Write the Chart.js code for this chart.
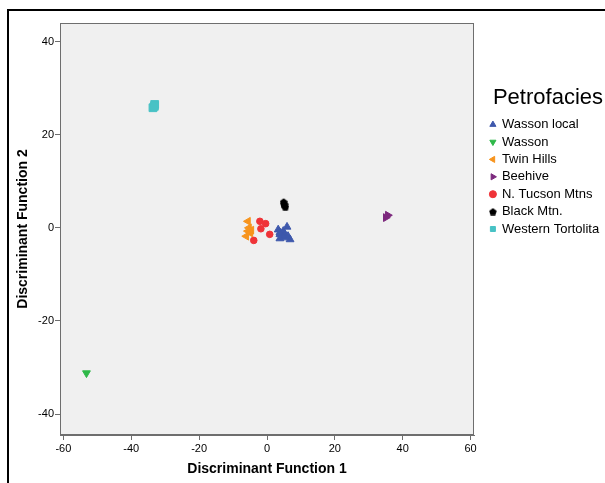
<!DOCTYPE html>
<html>
<head>
<meta charset="utf-8">
<script src="https://cdn.jsdelivr.net/npm/chart.js@4"></script>
<style>
  html, body { margin: 0; padding: 0; background: #fff; width: 605px; height: 483px; overflow: hidden; }
  #frame { position: absolute; left: 7px; top: 9px; width: 700px; height: 700px; border-left: 2px solid #000; border-top: 2px solid #000; }
  #wrap { position: absolute; left: 0; top: 0; width: 605px; height: 483px; }
</style>
</head>
<body>
<div id="frame"></div>
<div id="wrap"><canvas id="c" width="605" height="483"></canvas></div>
<script>
// ---- data ----
const seriesNames = ['Wasson local', 'Wasson', 'Twin Hills', 'Beehive', 'N. Tucson Mtns', 'Black Mtn.', 'Western Tortolita'];
const wassonLocalX = [5.9, 3.3, 3.8, 4.8, 3.8, 5.2, 6.2, 4.8, 6.8, 3.8];
const wassonLocalY = [0.2, -0.4, -1.0, -0.7, -1.4, -1.4, -1.8, -2.1, -2.5, -2.3];
const wassonX = [-53.2];
const wassonY = [-31.2];
const twinHillsX = [-5.6, -5.3, -4.6, -5.6, -6.1, -4.9];
const twinHillsY = [1.4, 0.0, -0.5, -0.7, -1.8, -1.1];
const beehiveX = [35.0, 35.6];
const beehiveY = [2.2, 2.7];
const nTucsonX = [-2.1, -0.4, -1.8, 0.8, -3.9];
const nTucsonY = [1.4, 0.9, -0.2, -1.4, -2.7];
const blackMtnX = [4.9, 5.2, 5.4, 5.0];
const blackMtnY = [5.6, 5.0, 4.5, 5.2];
const westTortX = [-33.1, -33.6, -33.2];
const westTortY = [26.5, 25.8, 26.1];
const xTicks = [-60, -40, -20, 0, 20, 40, 60];
const yTicks = [-40, -20, 0, 20, 40];

const FONT = "'Liberation Sans', Arial, sans-serif";

function pts(xs, ys) { return xs.map((x, i) => ({ x: x, y: ys[i] })); }

function pentagon(size, color) {
  const cv = document.createElement('canvas');
  cv.width = size; cv.height = size;
  const g = cv.getContext('2d');
  const r = size / 2;
  g.fillStyle = color;
  g.beginPath();
  for (let i = 0; i < 5; i++) {
    const a = -Math.PI / 2 + i * 2 * Math.PI / 5;
    const px = r + r * Math.cos(a), py = r + 0.5 + r * Math.sin(a);
    if (i === 0) g.moveTo(px, py); else g.lineTo(px, py);
  }
  g.closePath();
  g.fill();
  return cv;
}

const colors = ['#3E58AC', '#2EB848', '#F7941D', '#7C287D', '#EF3338', '#000000', '#48C2C5'];

function ds(label, data, color, style, rot, radius) {
  return {
    label: label,
    data: data,
    backgroundColor: color,
    borderColor: color,
    pointBackgroundColor: color,
    pointBorderColor: color,
    pointBorderWidth: 1,
    pointStyle: style,
    pointRotation: rot,
    pointRadius: radius,
    pointHoverRadius: radius
  };
}

const plotBox = {
  id: 'plotBox',
  beforeDatasetsDraw(chart) {
    const a = chart.chartArea, ctx = chart.ctx;
    ctx.save();
    ctx.fillStyle = '#F0F0F0';
    ctx.fillRect(a.left, a.top, a.right - a.left, a.bottom - a.top);
    ctx.restore();
  },
  afterDatasetsDraw(chart) {
    const a = chart.chartArea, ctx = chart.ctx;
    ctx.save();
    ctx.strokeStyle = '#6E6E6E';
    ctx.lineWidth = 1;
    ctx.strokeRect(Math.round(a.left) + 0.5, Math.round(a.top) + 0.5, Math.round(a.right - a.left) - 1, Math.round(a.bottom - a.top) - 1);
    ctx.restore();
  }
};

new Chart(document.getElementById('c'), {
  type: 'scatter',
  data: {
    datasets: [
      ds(seriesNames[0], pts(wassonLocalX, wassonLocalY), colors[0], 'triangle', 0, 4.5),
      ds(seriesNames[1], pts(wassonX, wassonY), colors[1], 'triangle', 180, 4.5),
      ds(seriesNames[2], pts(twinHillsX, twinHillsY), colors[2], 'triangle', 270, 4.5),
      ds(seriesNames[3], pts(beehiveX, beehiveY), colors[3], 'triangle', 90, 4.5),
      ds(seriesNames[4], pts(nTucsonX, nTucsonY), colors[4], 'circle', 0, 3.3),
      ds(seriesNames[5], pts(blackMtnX, blackMtnY), colors[5], pentagon(8, colors[5]), 0, 4),
      ds(seriesNames[6], pts(westTortX, westTortY), colors[6], 'rect', 0, 5.5)
    ]
  },
  plugins: [plotBox],
  options: {
    responsive: false,
    animation: false,
    devicePixelRatio: 1,
    layout: { padding: { left: 8, top: 23, right: 2, bottom: 0 } },
    plugins: {
      tooltip: { enabled: false },
      legend: {
        position: 'right',
        align: 'start',
        maxWidth: 117,
        title: {
          display: true,
          text: 'Petrofacies',
          position: 'end',
          color: '#000',
          font: { family: FONT, size: 22, lineHeight: 1.1 },
          padding: { top: 64, bottom: 2.5 }
        },
        labels: {
          usePointStyle: true,
          boxWidth: 5,
          boxHeight: 5,
          padding: 4.4,
          color: '#000',
          font: { family: FONT, size: 13 }
        }
      }
    },
    scales: {
      x: {
        type: 'linear',
        position: 'bottom',
        min: -61, max: 61,
        afterFit(s) { s.height = 48; },
        afterBuildTicks(s) { s.ticks = xTicks.map(v => ({ value: v })); },
        ticks: { color: '#000', padding: 2, font: { family: FONT, size: 11 } },
        grid: { display: true, drawOnChartArea: false, drawTicks: true, tickLength: 5, color: '#6E6E6E' },
        border: { display: true, color: '#6E6E6E' },
        title: { display: true, text: 'Discriminant Function 1', color: '#000', font: { family: FONT, size: 14, weight: 'bold' }, padding: { top: 0, bottom: 5 } }
      },
      y: {
        type: 'linear',
        position: 'left',
        min: -44.5, max: 44,
        afterFit(s) { s.width = 52; },
        afterBuildTicks(s) { s.ticks = yTicks.map(v => ({ value: v })); },
        ticks: { color: '#000', padding: 1, font: { family: FONT, size: 11 } },
        grid: { display: true, drawOnChartArea: false, drawTicks: true, tickLength: 5, color: '#6E6E6E' },
        border: { display: true, color: '#6E6E6E' },
        title: { display: true, text: 'Discriminant Function 2', color: '#000', font: { family: FONT, size: 14, weight: 'bold' }, padding: { top: 7, bottom: 0 } }
      },
      spacer: {
        type: 'linear',
        position: 'right',
        display: true,
        afterFit(s) { s.width = 12; },
        ticks: { display: false },
        grid: { display: false },
        border: { display: false }
      }
    }
  }
});
</script>
</body>
</html>
